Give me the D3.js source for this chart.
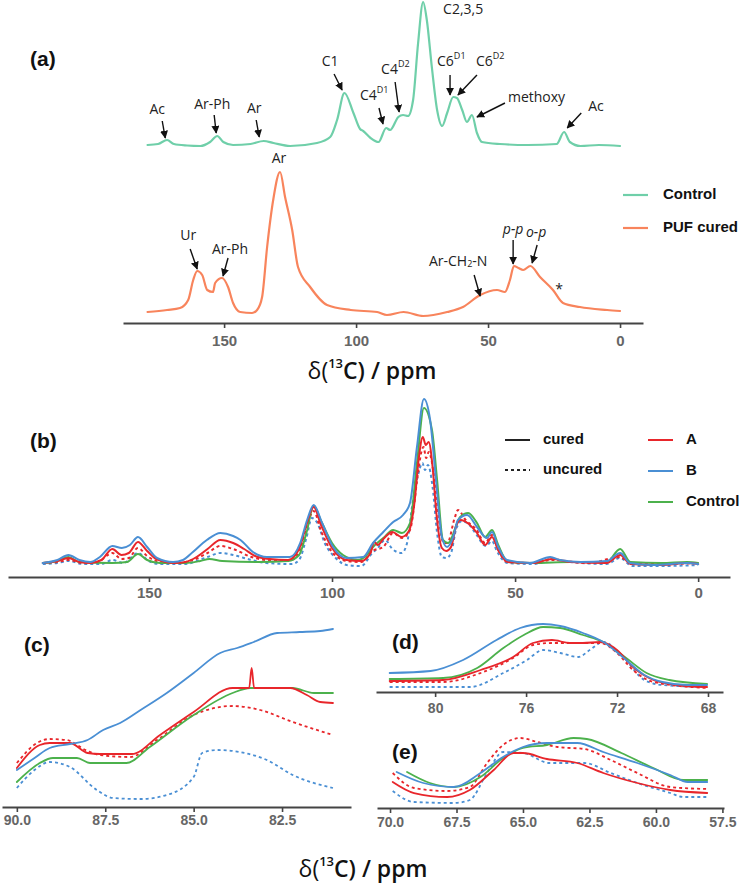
<!DOCTYPE html>
<html>
<head>
<meta charset="utf-8">
<script src="https://cdn.jsdelivr.net/npm/d3@7"></script>
<style>
  body { margin: 0; background: #fff; }
  svg { display: block; font-family: Arial, "Liberation Sans", sans-serif; }
  .tick text { font-weight: bold; fill: #666; }
  .anno { font-family: "Open Sans", sans-serif; font-size: 14px; fill: #222; }
  .leg { font-weight: bold; font-size: 15px; fill: #111; }
  .plabel { font-weight: bold; font-size: 21px; fill: #111; }
  .xtitle { font-family: "Open Sans", sans-serif; font-size: 23px; font-weight: 600; fill: #111; }
</style>
</head>
<body>
<svg id="chart" width="748" height="883"></svg>
<script>
// ---- data: [ppm, intensity (arb. units)] ----
// panel (a)
const aControl = [[179,1],[175,2],[171.6,6],[169,2],[164,0.5],[159,0],[155.3,4],[152.6,10],[150.3,4],[146.6,1],[140,2],[135,5],[131.3,3],[125,0],[114.8,3],[109.8,9],[107.2,26],[104.4,53],[101,33],[98.5,17],[97.3,15],[94.5,8],[91.5,4],[88.6,18],[87.1,16],[84,29],[82.2,31],[80.3,30],[78.4,46],[76.5,103],[74.6,144],[73.2,126],[71.3,79],[69.3,36],[67.4,20],[65.5,33],[63.2,49],[61.8,48],[59.8,36],[58,24],[56.1,31],[54.2,13],[52.3,4],[45.5,2],[35,1],[24,2],[21.2,14],[19,4],[15,0],[8,1],[0,0]];
const aPufCured = [[179,1],[171.6,3],[166.7,5],[163.6,13],[161.7,33],[160.2,42],[158.3,38],[156.4,23],[154.2,21],[153.4,30],[150.8,35],[148.5,26],[146.6,10],[143.9,1],[139.4,0],[137.5,3],[135.6,16],[133.7,66],[131.4,113],[128.8,141],[126.9,116],[124.2,83],[122,46],[117.4,26],[111,8],[102,3],[92,1],[88.3,-2],[82,1],[74.6,-3],[65.5,1],[59.5,6],[53,18],[46.6,23],[43.6,21],[41.7,33],[40.2,47],[38.5,45],[36.7,43],[34,47],[30.3,36],[25.4,23],[21.6,10],[15.2,6],[4.9,3],[0,2]];

// panel (b)
const bACured = [[179,0],[175,2],[172,5],[169,1],[166,0],[163,3],[160,14],[157.5,8],[155.5,10],[153,21],[150.5,12],[148,4],[143,0],[140,1],[137,6],[134,14],[130.5,23],[127,20],[124,14],[121,7],[117,4],[112,3],[109,14],[107,38],[105,56],[103,38],[100,15],[96,3],[92,2],[89.5,10],[88.5,21],[87.5,18],[86,24],[83.5,31],[81,26],[79,32],[77.5,60],[76.3,105],[75.2,126],[74.4,118],[73.6,121],[72.5,95],[71.5,50],[70,15],[68.8,12],[67.5,16],[66,38],[64.8,43],[63,40],[60.4,30],[58.2,18],[56.3,26],[54.6,13],[52,1],[45,0],[40,4],[35,1],[25,0],[21.3,8],[18.5,-1],[10,-2],[3,0],[0,-1]];
const bAUncured = [[179,0],[175,1],[172,3],[168,0],[164,1],[160,10],[157.5,4],[155.5,5],[153,15],[150.5,7],[147,1],[143,0],[138,3],[134,10],[130.5,17],[127,14],[122,6],[118,3],[112,2],[109,10],[107,35],[105,52],[103,32],[100,11],[96,2],[92,1],[89,12],[86,16],[83.3,30],[80.9,25],[78.7,33],[76.5,90],[75.6,111],[75,116],[74.3,105],[73.6,111],[72,83],[70.8,43],[69.5,20],[68.5,20],[66.5,45],[65.6,53],[63.5,43],[60.5,33],[58.2,20],[56.3,28],[54.6,13],[52,1],[45,0],[40,3],[30,0],[21.3,6],[18.5,0],[10,-1],[0,0]];
const bBCured = [[179,0],[175,3],[172,8],[169,3],[166,1],[163.4,6],[160,17],[157.4,15],[155.2,18],[153,26],[150.5,16],[147.8,5],[143.4,1],[140.7,3],[138,11],[134.2,23],[130.5,30],[127,27],[125,23],[121.6,11],[117.8,6],[111.5,6],[108.7,20],[106.8,43],[105,58],[102.7,40],[99.7,16],[96,5],[91.5,6],[88.8,20],[86,31],[83.3,41],[80.6,48],[78.7,60],[76.8,116],[74.9,164],[73.2,143],[71.6,83],[70,26],[68.6,16],[66.9,26],[65.6,43],[63.1,48],[60.4,36],[57.7,25],[56.3,31],[54.6,16],[52.2,3],[46,0],[40.4,6],[37.7,3],[32,1],[24.9,2],[21.3,10],[18.6,0],[12.3,-2],[3,0],[0,-1]];
const bBUncured = [[179,-1],[175,0],[172,2],[168,-1],[163,-1],[160,3],[157,0],[153,10],[150,2],[147,-1],[140,-1],[137,2],[134,6],[130.5,10],[127,8],[122,3],[118,0],[111,-1],[109,3],[107,25],[105.5,45],[104,40],[102,20],[99,5],[96,-2],[92,-3],[89,10],[87.5,15],[85.5,23],[83.5,14],[81,10],[79.5,20],[78,60],[76.5,88],[75.3,100],[74.6,93],[73.8,98],[72.5,75],[71.3,30],[70,6],[68.8,5],[67.5,10],[66,35],[64.5,42],[62.5,38],[60.5,28],[58,17],[56.3,22],[55,12],[52,0],[45,-1],[40,4],[35,1],[25,-1],[21.3,5],[18,-3],[10,-3],[0,-2]];
const bControl = [[179,0],[175,2],[172,6],[169,1],[160,0],[156,1],[153,9],[150.5,3],[147,0],[140,0],[136,2],[133.5,4],[130,2],[120,1],[112,2],[109,8],[107,30],[105,57],[103,42],[100,20],[97,8],[93,3],[90.5,8],[88.8,16],[86,25],[83.3,33],[80.9,30],[78.7,40],[76.8,100],[74.9,155],[72.7,133],[71.3,83],[69.7,23],[68.3,20],[65,46],[62.8,50],[60.4,40],[58.2,26],[56.3,33],[54.6,18],[51.9,1],[45,0],[35,1],[25,1],[21.3,14],[18.5,1],[10,0],[3,1],[0,0]];

// panel (c)
const cBCured = [[90,37],[89.5,49],[89.07,59],[88.5,63],[88,67],[87.56,77],[87.08,84],[86.5,97],[85.76,114],[85,134],[84.25,154],[83.77,159],[83.3,165],[82.64,174],[82,175],[81.42,176],[81.06,178]];
const cACured = [[90,39],[89.35,62],[89.07,64],[88.5,64],[88,54],[87.65,53],[86.75,53],[85.95,72],[85,95],[83.9,119],[83.43,119],[83.36,139],[83.29,119],[82.27,119],[81.8,112],[81.42,105],[81.06,104]];
const cControl = [[90,25],[89.35,44],[88.98,49],[88.3,49],[87.93,44],[86.9,44],[86.24,60],[85,92],[83.9,114],[83.4,119],[82.2,119],[81.6,114],[81.06,114]];
const cAUncured = [[90,44],[89.43,64],[89.07,68],[88.6,67],[88,56],[87.65,52],[86.8,50],[86.04,67],[85,92],[83.9,101],[83.12,97],[82.2,85],[81.06,72]];
const cBUncured = [[90,19],[89.5,37],[89.07,45],[88.5,40],[87.74,17],[87.28,9],[86.5,8],[85.76,12],[85,30],[84.76,54],[84.34,57],[83.7,55],[82.93,47],[82.2,32],[81.06,19]];

// panel (d)
const dBCured = [[82,19],[80.2,21],[78.77,32],[77.3,52],[76.26,64],[75.25,68],[74.5,66],[73.5,59],[72.6,50],[71.7,34],[70.8,17],[70,10],[68.9,7],[68.04,7]];
const dControl = [[82,13],[79.65,14],[78.15,24],[77,44],[76.1,57],[75.25,65],[74.5,64],[73.5,57],[72.6,50],[71.6,34],[70.7,19],[69.7,12],[68.04,8]];
const dACured = [[82,11],[79.65,12],[78,22],[76.57,35],[75.7,49],[74.86,52],[74.07,49],[73.5,49],[72.75,50],[72,42],[71.3,25],[70.4,12],[69.36,7],[68.04,5]];
const dAUncured = [[82,10],[79.65,10],[78,19],[76.57,34],[75.7,47],[74.86,49],[73.76,49],[72.75,49],[72,39],[71.3,22],[70.4,10],[68.04,4]];
const dBUncured = [[82,5],[78.46,5],[77,19],[75.96,32],[75.25,42],[74.5,39],[73.7,35],[73.2,42],[72.6,50],[71.7,34],[70.8,12],[70,7],[68.04,5]];

// panel (e)
const eBCured = [[69.75,36],[68.75,25],[67.6,21],[66.6,35],[65.75,51],[65,61],[64.1,65],[62.96,65],[61.98,56],[60.7,45],[59.46,33],[58.8,26],[58.07,26]];
const eControl = [[69.36,36],[68.5,25],[67.6,21],[66.6,31],[65.75,50],[65,60],[64.1,63],[63.1,70],[62.6,69],[61.3,55],[60.1,40],[58.97,28],[58.07,28]];
const eACured = [[69.9,26],[69.1,15],[67.85,11],[67,18],[66.1,38],[65.36,55],[65,55],[64.1,49],[62.96,45],[61.98,35],[60.7,25],[59.46,18],[58.07,15]];
const eAUncured = [[69.9,35],[69.1,20],[67.85,17],[67,21],[66.35,45],[65.75,63],[65.1,70],[64.47,66],[63.7,61],[62.7,59],[61.7,48],[60.7,35],[59.46,21],[58.07,19]];
const eBUncured = [[69.9,17],[69.1,6],[67.6,5],[67,8],[66.35,35],[65.75,56],[65,55],[64,45],[62.7,45],[61.7,35],[60.7,25],[59.46,15],[58.97,11],[58.07,11]];

// tick labels
const ticksAB = [150, 100, 50, 0];
const ticksC = [90, 87.5, 85, 82.5];
const ticksD = [80, 76, 72, 68];
const ticksE = [70, 67.5, 65, 62.5, 60, 57.5];

// peak annotations (tip at ppm/intensity, offsets in px)
const annoControl = [
  {t: "Ac", ppm: 172.3, v: 8, ax: -3, ay: -17, tx: -8, ty: -28},
  {t: "Ar-Ph", ppm: 153, v: 13, ax: -2, ay: -18, tx: -4, ty: -28},
  {t: "Ar", ppm: 136.7, v: 9, ax: -3, ay: -17, tx: -5, ty: -28},
  {t: "C1", ppm: 105.3, v: 56, ax: -8, ay: -16, tx: -12, ty: -28},
  {t: "C4", sup: "D1", ppm: 89.8, v: 22, ax: -4, ay: -16, tx: -23, ty: -28, anchor: "start"},
  {t: "C4", sup: "D2", ppm: 83.7, v: 34, ax: -4, ay: -30, tx: -18, ty: -42, anchor: "start"},
  {t: "C2,3,5", ppm: 74.6, v: 144, tx: 20, ty: 8, anchor: "start"},
  {t: "C6", sup: "D1", ppm: 64.4, v: 51, ax: 0, ay: -20, tx: -13, ty: -33, anchor: "start"},
  {t: "C6", sup: "D2", ppm: 61.4, v: 51, ax: 19, ay: -20, tx: 18, ty: -33, anchor: "start"},
  {t: "methoxy", ppm: 54.2, v: 29, ax: 28, ay: -14, tx: 31, ty: -19, anchor: "start"},
  {t: "Ac", ppm: 20, v: 18, ax: 14, ay: -15, tx: 21, ty: -21, anchor: "start"}
];
const annoPuf = [
  {t: "Ar", ppm: 128.8, v: 141, tx: -1, ty: -13},
  {t: "Ur", ppm: 160.2, v: 44, ax: -7, ay: -20, tx: -9, ty: -33},
  {t: "Ar-Ph", ppm: 150.4, v: 37, ax: 5, ay: -18, tx: 7, ty: -26},
  {t: "Ar-CH", sub: "2", tail: "-N", ppm: 53, v: 17, ax: -6, ay: -21, tx: -22, ty: -34},
  {t: "p-p", italic: true, ppm: 40.5, v: 49, ax: 0, ay: -24, tx: 0, ty: -34},
  {t: "o-p", italic: true, ppm: 33.3, v: 50, ax: 5, ay: -18, tx: 4, ty: -30},
  {t: "*", ppm: 23.1, v: 26, tx: 0, ty: 3}
];

const RED = "#e8262b", BLUE = "#4a8fd4", GREEN = "#4cb14c";
const MINT = "#6fcfa9", ORANGE = "#f8845c";

const svg = d3.select("#chart");

svg.append("defs").append("marker")
  .attr("id", "arrow")
  .attr("viewBox", "0 0 10 10")
  .attr("refX", 9).attr("refY", 5)
  .attr("markerUnits", "userSpaceOnUse")
  .attr("markerWidth", 8).attr("markerHeight", 8)
  .attr("orient", "auto")
  .append("path").attr("d", "M0,0 L10,5 L0,10 z").attr("fill", "#111");

// draws an x axis and some spectra
function drawPanel(p) {
  const x = d3.scaleLinear().domain(p.xDomain).range(p.xRange);
  const g = svg.append("g");

  const axis = d3.axisBottom(x)
    .tickValues(p.ticks)
    .tickSizeInner(5).tickSizeOuter(0)
    .tickPadding(p.pad)
    .tickFormat(p.fmt);

  const ax = g.append("g")
    .attr("transform", `translate(0,${p.axisY})`)
    .call(axis);
  ax.select(".domain").attr("stroke", "#444").attr("stroke-width", 2.2);
  ax.selectAll(".tick line").attr("stroke", "#444").attr("stroke-width", 1.6);
  ax.selectAll(".tick text").style("font-size", p.fontSize + "px").attr("font-family", null);

  p.series.forEach(s => {
    const y = d3.scaleLinear().domain(s.yDomain || p.yDomain).range(s.yRange || p.yRange);
    const line = d3.line()
      .x(d => x(d[0]))
      .y(d => y(d[1]))
      .curve(d3.curveMonotoneX);
    s.y = y;
    g.append("path")
      .datum(s.data)
      .attr("d", line)
      .attr("fill", "none")
      .attr("stroke", s.color)
      .attr("stroke-width", s.w || 2)
      .attr("stroke-dasharray", s.dash || null)
      .attr("stroke-linejoin", "round")
      .attr("stroke-linecap", s.dash ? "butt" : "round");
  });
  return x;
}

function panelLabel(txt, x, y) {
  svg.append("text").attr("class", "plabel")
    .attr("x", x).attr("y", y).attr("dominant-baseline", "middle")
    .text(txt);
}

function annotate(list, x, y) {
  list.forEach(a => {
    const px = x(a.ppm), py = y(a.v);
    if (a.ax !== undefined) {
      svg.append("line")
        .attr("x1", px + a.ax).attr("y1", py + a.ay)
        .attr("x2", px).attr("y2", py)
        .attr("stroke", "#111").attr("stroke-width", 1.4)
        .attr("marker-end", "url(#arrow)");
    }
    const t = svg.append("text").attr("class", "anno")
      .attr("x", px + a.tx).attr("y", py + a.ty)
      .attr("dominant-baseline", "middle")
      .attr("text-anchor", a.anchor || "middle")
      .style("font-style", a.italic ? "italic" : null);
    t.append("tspan").text(a.t);
    if (a.sup) t.append("tspan").attr("dy", -5).style("font-size", "9px").text(a.sup);
    if (a.sub) {
      t.append("tspan").attr("dy", 3).style("font-size", "9px").text(a.sub);
      t.append("tspan").attr("dy", -3).text(a.tail);
    }
  });
}

function xTitle(cx, cy) {
  const t = svg.append("text").attr("class", "xtitle")
    .attr("x", cx).attr("y", cy)
    .attr("text-anchor", "middle").attr("dominant-baseline", "middle");
  t.append("tspan").style("font-weight", 400).text("δ(");
  t.append("tspan").attr("dy", -8).style("font-size", "13px").text("13");
  t.append("tspan").attr("dy", 8).text("C) / ppm");
}

// ---------- panel (a) ----------
const serA = [
  {data: aControl, color: MINT, w: 2.2, yDomain: [0, 144], yRange: [146, 2]},
  {data: aPufCured, color: ORANGE, w: 2.2, yDomain: [0, 141], yRange: [313, 172]}
];
const xa = drawPanel({
  xDomain: [188.3, -8.7], xRange: [123, 643], axisY: 323,
  ticks: ticksAB, fmt: d3.format("d"), pad: 7, fontSize: 15,
  series: serA
});
annotate(annoControl, xa, serA[0].y);
annotate(annoPuf, xa, serA[1].y);
panelLabel("(a)", 30, 60);
xTitle(372, 373);

const legA = [["Control", MINT], ["PUF cured", ORANGE]];
legA.forEach((d, i) => {
  const yy = 195 + i * 33;
  svg.append("line").attr("x1", 623).attr("x2", 648).attr("y1", yy).attr("y2", yy)
    .attr("stroke", d[1]).attr("stroke-width", 2.2);
  svg.append("text").attr("class", "leg").attr("x", 663).attr("y", yy)
    .attr("dominant-baseline", "middle").text(d[0]);
});

// ---------- panel (b) ----------
drawPanel({
  xDomain: [188.5, -8.7], xRange: [8, 730], axisY: 577,
  yDomain: [0, 164], yRange: [563, 399],
  ticks: ticksAB, fmt: d3.format("d"), pad: 5, fontSize: 15,
  series: [
    {data: bBUncured, color: BLUE, dash: "3,3", w: 2},
    {data: bAUncured, color: RED, dash: "3,3", w: 2},
    {data: bControl, color: GREEN, w: 2},
    {data: bACured, color: RED, w: 2},
    {data: bBCured, color: BLUE, w: 2}
  ]
});
panelLabel("(b)", 30, 442);

const legStyle = [["cured", null], ["uncured", "3,3"]];
legStyle.forEach((d, i) => {
  const yy = 440 + i * 30;
  svg.append("line").attr("x1", 505).attr("x2", 530).attr("y1", yy).attr("y2", yy)
    .attr("stroke", "#222").attr("stroke-width", 2).attr("stroke-dasharray", d[1]);
  svg.append("text").attr("class", "leg").attr("x", 543).attr("y", yy)
    .attr("dominant-baseline", "middle").text(d[0]);
});
const legColor = [["A", RED], ["B", BLUE], ["Control", GREEN]];
legColor.forEach((d, i) => {
  const yy = 440 + i * 31;
  svg.append("line").attr("x1", 648).attr("x2", 673).attr("y1", yy).attr("y2", yy)
    .attr("stroke", d[1]).attr("stroke-width", 2);
  svg.append("text").attr("class", "leg").attr("x", 686).attr("y", yy)
    .attr("dominant-baseline", "middle").text(d[0]);
});

// ---------- panel (c) ----------
drawPanel({
  xDomain: [90.42, 80.55], xRange: [2, 351], axisY: 807,
  yDomain: [0, 178], yRange: [807, 629],
  ticks: ticksC, fmt: d3.format(".1f"), pad: 3, fontSize: 14,
  series: [
    {data: cBUncured, color: BLUE, dash: "3,3", w: 1.8},
    {data: cAUncured, color: RED, dash: "3,3", w: 1.8},
    {data: cControl, color: GREEN, w: 1.8},
    {data: cACured, color: RED, w: 1.8},
    {data: cBCured, color: BLUE, w: 1.8}
  ]
});
panelLabel("(c)", 24, 646);

// ---------- panel (d) ----------
drawPanel({
  xDomain: [82.6, 67.34], xRange: [376, 723], axisY: 692,
  yDomain: [0, 68], yRange: [692, 624],
  ticks: ticksD, fmt: d3.format("d"), pad: 6, fontSize: 14,
  series: [
    {data: dBUncured, color: BLUE, dash: "3,3", w: 1.8},
    {data: dAUncured, color: RED, dash: "3,3", w: 1.8},
    {data: dControl, color: GREEN, w: 1.8},
    {data: dACured, color: RED, w: 1.8},
    {data: dBCured, color: BLUE, w: 1.8}
  ]
});
panelLabel("(d)", 392, 643);

// ---------- panel (e) ----------
drawPanel({
  xDomain: [70.49, 57.44], xRange: [377, 724], axisY: 808,
  yDomain: [0, 70], yRange: [808, 738],
  ticks: ticksE, fmt: d3.format(".1f"), pad: 4, fontSize: 14,
  series: [
    {data: eBUncured, color: BLUE, dash: "3,3", w: 1.8},
    {data: eAUncured, color: RED, dash: "3,3", w: 1.8},
    {data: eControl, color: GREEN, w: 1.8},
    {data: eACured, color: RED, w: 1.8},
    {data: eBCured, color: BLUE, w: 1.8}
  ]
});
panelLabel("(e)", 392, 753);

xTitle(363, 871);
</script>
</body>
</html>
